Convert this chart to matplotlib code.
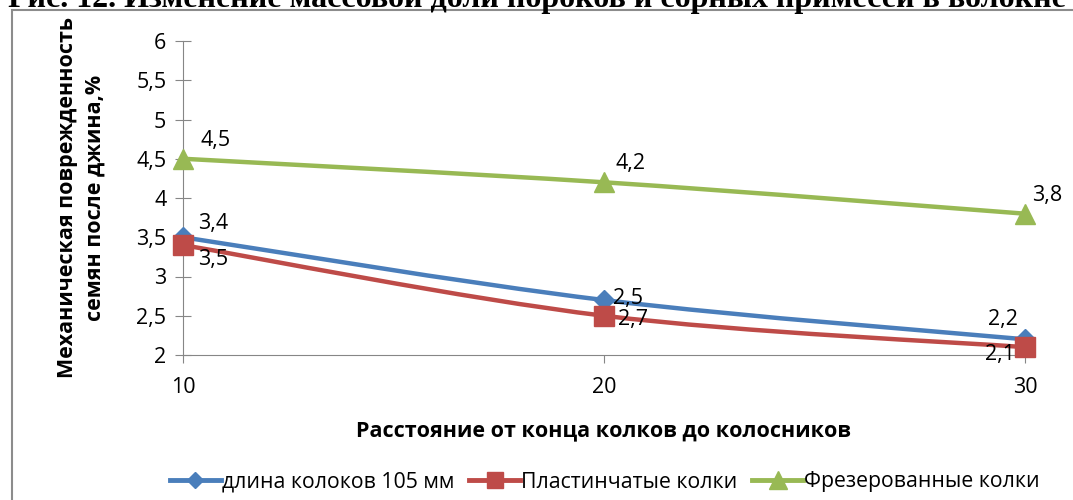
import numpy as np
import matplotlib
matplotlib.use("Agg")
import matplotlib.pyplot as plt
from matplotlib.path import Path
from matplotlib.patches import PathPatch, Rectangle

plt.rcParams['font.family'] = ['Open Sans', 'DejaVu Sans']

# Data
distance = [10, 20, 30]
series_names = ['длина колоков 105 мм', 'Пластинчатые колки', 'Фрезерованные колки']
blue_vals = [3.5, 2.7, 2.2]
red_vals = [3.4, 2.5, 2.1]
green_vals = [4.5, 4.2, 3.8]
# data labels as printed on the original chart
blue_labels = ['3,4', '2,5', '2,2']
red_labels = ['3,5', '2,7', '2,1']
green_labels = ['4,5', '4,2', '3,8']
y_ticks = [2, 2.5, 3, 3.5, 4, 4.5, 5, 5.5, 6]

colors = ['#4a7ebb', '#be4b48', '#98b954']
markers = ['D', 's', '^']
msizes = [10, 14, 15]


def smooth_path(x, y):
    # Excel-style smoothed line as cubic Bezier segments
    x = np.asarray(x, float)
    y = np.asarray(y, float)
    n = len(x)
    verts = [(x[0], y[0])]
    codes = [Path.MOVETO]
    for i in range(n - 1):
        p0 = np.array([x[max(i - 1, 0)], y[max(i - 1, 0)]])
        p1 = np.array([x[i], y[i]])
        p2 = np.array([x[i + 1], y[i + 1]])
        p3 = np.array([x[min(i + 2, n - 1)], y[min(i + 2, n - 1)]])
        c1 = p1 + (p2 - p0) / 6
        c2 = p2 - (p3 - p1) / 6
        verts += [tuple(c1), tuple(c2), tuple(p2)]
        codes += [Path.CURVE4] * 3
    return Path(verts, codes)


fig = plt.figure(figsize=(10.73, 5), dpi=100)

# outer frame and cut-off caption
fig.patches.append(Rectangle((12 / 1073, -0.1), 1.2, 1 - 10 / 500 + 0.1,
                             transform=fig.transFigure, fill=False,
                             edgecolor='#8c8c8c', linewidth=1.5))
fig.text(0.5, 1 - 7 / 500, 'Рис. 12. Изменение массовой доли пороков и сорных примесей в волокне',
         ha='center', va='baseline', fontsize=23, fontweight='bold',
         family=['Liberation Serif', 'DejaVu Serif'])

ax = fig.add_axes([183 / 1073, 1 - 355 / 500, (1025 - 183) / 1073, (355 - 41) / 500])
ax.set_xlim(10, 30)
ax.set_ylim(2, 6)

all_vals = [blue_vals, red_vals, green_vals]
for vals, c, m, ms, name in zip(all_vals, colors, markers, msizes, series_names):
    ax.add_patch(PathPatch(smooth_path(distance, vals), facecolor='none',
                           edgecolor=c, linewidth=3.2, zorder=3, clip_on=False))
    ax.plot(distance, vals, linestyle='none', marker=m, markersize=ms, color=c,
            zorder=4, clip_on=False)
    # legend proxy
    ax.plot([], [], color=c, marker=m, markersize=ms * 0.85, linewidth=3.5, label=name)

# data labels (offsets in pixels)
offsets = {
    'blue': [(30, 14), (24, 2), (-22, 20)],
    'red': [(30, -14), (29, -4), (-25, -7)],
    'green': [(33, 18), (27, 19), (22, 18)],
}
for key, vals, labels in [('blue', blue_vals, blue_labels),
                          ('red', red_vals, red_labels),
                          ('green', green_vals, green_labels)]:
    for xv, yv, lab, off in zip(distance, vals, labels, offsets[key]):
        ax.annotate(lab, (xv, yv), xytext=off, textcoords='offset pixels',
                    ha='center', va='center', fontsize=15.5, zorder=5)

for s in ['top', 'right']:
    ax.spines[s].set_visible(False)
ax.spines['left'].set_color('#868686')
ax.spines['bottom'].set_color('#868686')
ax.set_yticks(y_ticks)
ax.set_yticklabels([str(t).replace('.', ',') if t % 1 else str(int(t)) for t in y_ticks])
ax.set_xticks(distance)
ax.tick_params(axis='y', direction='inout', length=12, color='#868686', labelsize=15.5, pad=6)
ax.tick_params(axis='x', direction='out', length=6, color='#868686', labelsize=15.5, pad=10)

ax.set_xlabel('Расстояние от конца колков до колосников', fontsize=15.5,
              fontweight='bold', labelpad=16)
ax.set_ylabel('Механическая поврежденность\nсемян после джина,%', fontsize=15.5,
              fontweight='bold', labelpad=22, linespacing=1.4)

fig.legend(loc='center', bbox_to_anchor=(605 / 1073, 1 - 482 / 500), ncol=3,
           frameon=False, fontsize=15.3, handlelength=2.4, handletextpad=0.05,
           columnspacing=0.7)

fig.savefig('out.png', dpi=100)
